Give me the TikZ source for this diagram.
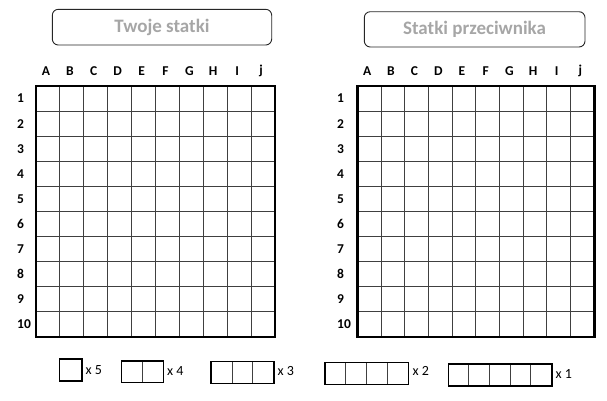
\documentclass[tikz,border=0pt]{standalone}
\usepackage{fontspec}
\setmainfont{Carlito}
\definecolor{titlegray}{HTML}{A6A6A6}
\definecolor{innergray}{HTML}{404040}
\begin{document}
\begin{tikzpicture}[x=1pt,y=-1pt,
  titlebox/.style={draw=black!85,line width=0.9pt,rounded corners=6pt,inner sep=0pt},
  titletext/.style={font=\fontsize{19}{22}\selectfont\bfseries,text=titlegray},
  collabel/.style={font=\fontsize{13.5}{15}\selectfont\bfseries,inner sep=0pt},
  rowlabel/.style={font=\fontsize{13.5}{15}\selectfont\bfseries,inner sep=0pt,anchor=west},
  innerline/.style={draw=innergray,line width=0.9pt},
  outerline/.style={draw=black,line width=2.8pt},
  shipline/.style={draw=black,line width=1.6pt},
  shipinner/.style={draw=innergray,line width=1pt},
  countlabel/.style={font=\fontsize{14}{16}\selectfont,inner sep=0pt,anchor=west}]
\useasboundingbox (0,0) rectangle (607,400);
% title boxes
\draw[titlebox] (52.3,9.3) rectangle (271.7,45);
\node[titletext] (t1) at (162,27.5) {Twoje statki};
\draw[titlebox] (364.3,11.7) rectangle (585,47);
\node[titletext] (t2) at (474.5,29.5) {Statki przeciwnika};
% grids
\foreach \gx/\gw/\lx in {36/23.9/17, 357.3/23.7/337}{
  \pgfmathsetmacro{\xe}{\gx+10*\gw}
  \foreach \i in {1,...,9}{
    \draw[innerline] ({\gx+\i*\gw},86) -- ({\gx+\i*\gw},337);
    \draw[innerline] (\gx,{86+\i*25.1}) -- (\xe,{86+\i*25.1});
  }
  \draw[outerline] (\gx,86) rectangle (\xe,337);
  \foreach \c [count=\k from 0] in {A,B,C,D,E,F,G,H,I,j}{
    \node[collabel] (c\k-\gx) at ({\gx+(\k+0.5)*\gw-2},71) {\c};
  }
  \foreach \r in {1,...,10}{
    \node[rowlabel] (r\r-\gx) at (\lx,{86+(\r-0.5)*25.1}) {\r};
  }
}
% ships legend
% 1
\draw[shipline] (59.3,359) rectangle (81.7,381);
\node[countlabel] (n5) at (85.5,370) {x 5};
% 2
\draw[shipinner] (142.7,360.7) -- (142.7,382.3);
\draw[shipline] (121.3,360.7) rectangle (163.3,382.3);
\node[countlabel] (n4) at (167,370.5) {x 4};
% 3
\foreach \d in {232,252.7}{\draw[shipinner] (\d,361.3) -- (\d,383.3);}
\draw[shipline] (211,361.3) rectangle (274,383.3);
\node[countlabel] (n3) at (277.5,371) {x 3};
% 4
\foreach \d in {345.7,366.7,387.7}{\draw[shipinner] (\d,362.3) -- (\d,384.3);}
\draw[shipline] (325,362.3) rectangle (408.3,384.3);
\node[countlabel] (n2) at (412.5,371) {x 2};
% 5
\foreach \d in {468.3,489,510,530.7}{\draw[shipinner] (\d,364) -- (\d,386);}
\draw[shipline] (448.3,364) rectangle (551.7,386);
\node[countlabel] (n1) at (555.5,373.5) {x 1};
\end{tikzpicture}
\end{document}
